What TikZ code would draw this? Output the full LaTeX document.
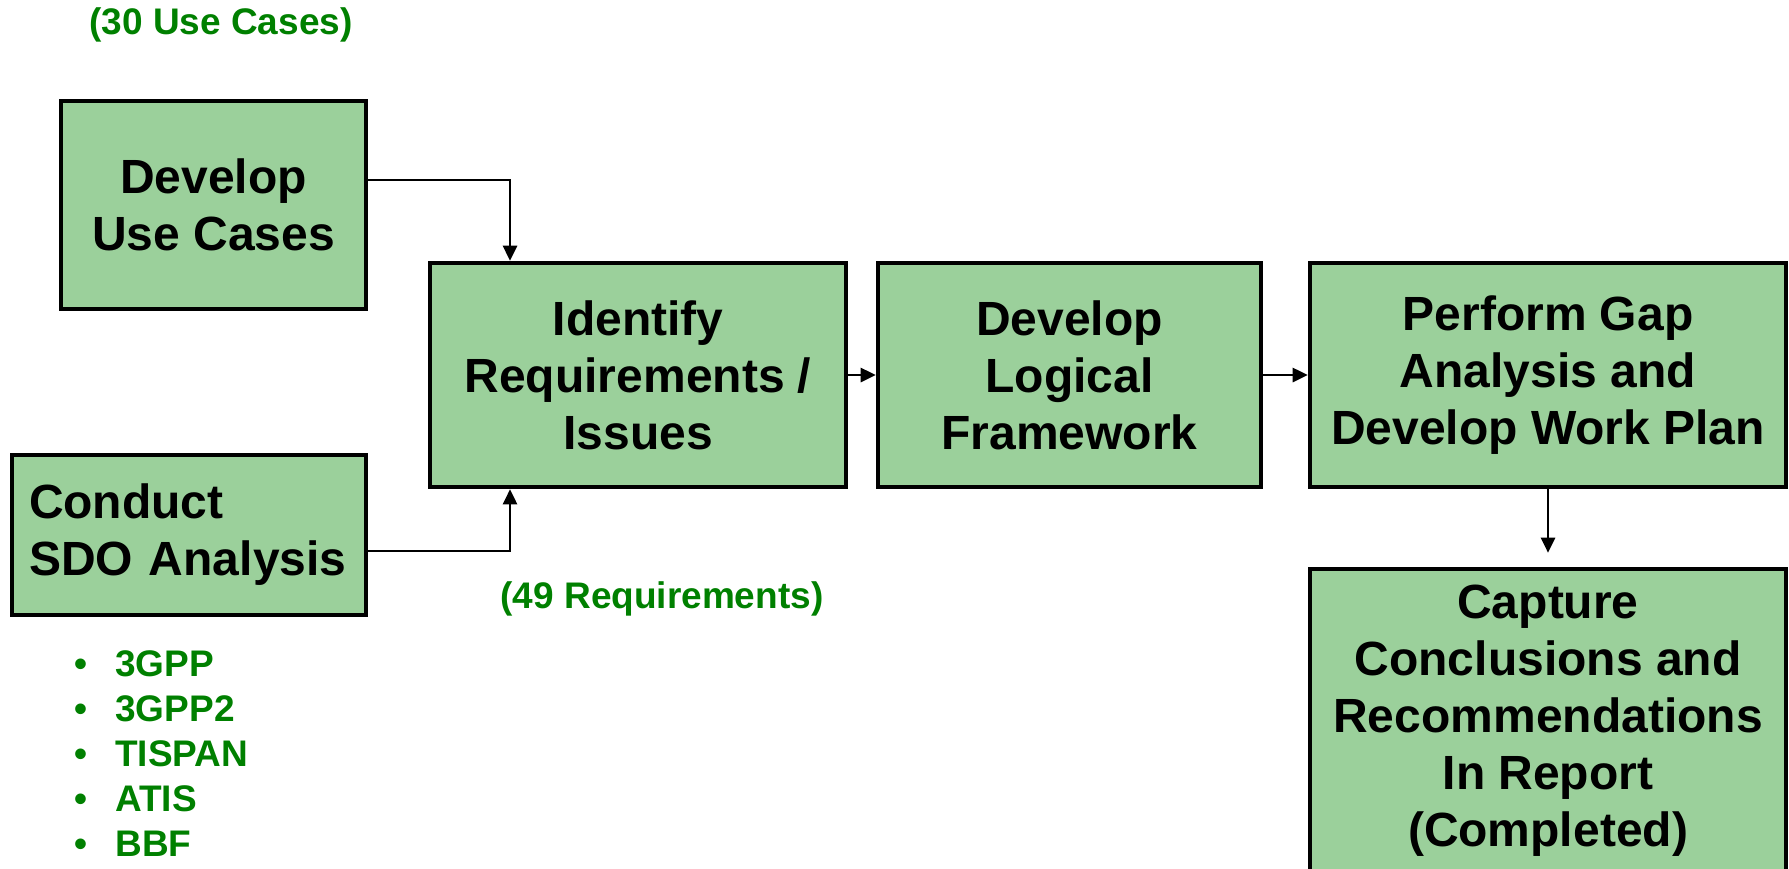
\documentclass[tikz,border=0pt]{standalone}
\usepackage{fontspec}
\setmainfont{Liberation Sans}
\usepackage{tikz}
\usetikzlibrary{calc}
\usetikzlibrary{arrows.meta}
\definecolor{taskgreen}{RGB}{155,208,155}
\definecolor{notegreen}{RGB}{0,128,0}
\tikzstyle{tasknode} = [draw, rectangle, line width=2.3pt, fill=taskgreen, align=center, font=\bfseries\fontsize{24}{28.5}\selectfont]
\tikzstyle{notenode} = [text=notegreen, align=left, inner sep=0pt, font=\bfseries\fontsize{18.5}{22.5}\selectfont]
\tikzstyle{flowedge} = [line width=1.35pt, -{Triangle[length=7.5pt,width=7pt]}]

\begin{document}
\begin{tikzpicture}[x=0.5pt, y=-0.5pt]
\useasboundingbox (0,0) rectangle (1789,868);
\node[tasknode, minimum width=152.5pt, minimum height=104pt] (use_cases) at (213.5,205) {Develop\\Use Cases};
\node[tasknode, minimum width=177pt, minimum height=80pt, align=left, text width=166pt, inner xsep=5.5pt] (sdo) at ($(use_cases)+(-24.5,330)$) {\hspace*{3pt}Conduct\\\hspace*{3pt}SDO Analysis};
\node[tasknode, minimum width=208pt, minimum height=112pt] (requirements) at ($(use_cases)+(424.5,170)$) {Identify\\Requirements /\\Issues};
\node[tasknode, minimum width=191.5pt, minimum height=112pt] (framework) at ($(requirements)+(431.5,0)$) {Develop\\Logical\\Framework};
\node[tasknode, minimum width=238pt, minimum height=112pt] (gap) at ($(framework)+(478.5,0)$) {Perform Gap\\Analysis and\\Develop Work Plan};
\node[tasknode, minimum width=238pt, minimum height=151.5pt] (capture) at ($(gap)+(0,345.5)$) {Capture\\Conclusions and\\Recommendations\\In Report\\(Completed)};

\node[notenode] (use_case_count) at (221,25) {(30 Use Cases)};
\node[notenode] (req_count) at (662,599) {(49 Requirements)};
\node[notenode, anchor=west] (sdo_list) at (74,754) {\textbullet\hspace{14pt}3GPP\\\textbullet\hspace{14pt}3GPP2\\\textbullet\hspace{14pt}TISPAN\\\textbullet\hspace{14pt}ATIS\\\textbullet\hspace{14pt}BBF};

\draw[flowedge] ($(use_cases.east)+(0,-25)$) -| ($(requirements.north)+(-128,0)$);
\draw[flowedge] ($(sdo.east)+(0,16)$) -| ($(requirements.south)+(-128,0)$);
\draw[flowedge] (requirements) -- (framework);
\draw[flowedge] (framework) -- (gap);
\draw[flowedge, shorten >=7pt] (gap) -- (capture);
\end{tikzpicture}
\end{document}
